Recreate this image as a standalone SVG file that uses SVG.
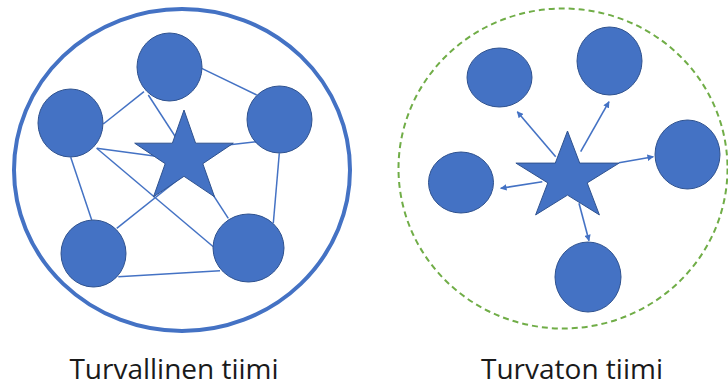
<svg xmlns="http://www.w3.org/2000/svg" width="728" height="388" viewBox="0 0 728 388">
<defs>
<style>
.node{fill:#4472C4;stroke:#2F528F;stroke-width:1}
.link{stroke:#4472C4;stroke-width:1.5;fill:none}
.arrow{stroke:#4472C4;stroke-width:1.6;fill:none;marker-end:url(#ah)}
.lbl{font-family:"Open Sans","Noto Sans",sans-serif;font-size:28px;fill:#1a1a1a}
</style>
<marker id="ah" viewBox="0 0 10 10" refX="9" refY="5" markerWidth="7" markerHeight="6.5" markerUnits="userSpaceOnUse" orient="auto"><path d="M0,0 L10,5 L0,10 Z" fill="#4472C4"/></marker>
</defs>
<rect width="728" height="388" fill="#ffffff"/>

<!-- Left: safe team -->
<g id="boundary-safe"><ellipse cx="182" cy="170" rx="168" ry="161" fill="none" stroke="#4472C4" stroke-width="4"/></g>
<g id="connectors-safe">
<line class="link" x1="201.7" y1="68.3" x2="256.7" y2="95"/>
<line class="link" x1="144" y1="91.7" x2="103.3" y2="124"/>
<line class="link" x1="148.3" y1="95" x2="228.3" y2="218.3"/>
<line class="link" x1="96.7" y1="148.3" x2="184" y2="160"/>
<line class="link" x1="184" y1="150" x2="256.7" y2="141.7"/>
<line class="link" x1="96.7" y1="148.3" x2="213.3" y2="246.7"/>
<line class="link" x1="70.7" y1="157.3" x2="91.7" y2="220"/>
<line class="link" x1="116.7" y1="228.3" x2="190" y2="170"/>
<line class="link" x1="118.3" y1="276.7" x2="220" y2="270.7"/>
<line class="link" x1="279.3" y1="153.3" x2="273.3" y2="223.3"/>
</g>
<g id="s-top"><ellipse class="node" cx="169.5" cy="67" rx="32.5" ry="34"/></g>
<g id="s-left"><ellipse class="node" cx="70.5" cy="123" rx="32.5" ry="34"/></g>
<g id="s-right"><ellipse class="node" cx="279.5" cy="119.5" rx="32.5" ry="33.5"/></g>
<g id="s-bottomleft"><ellipse class="node" cx="93.5" cy="253.5" rx="32.5" ry="33.5"/></g>
<g id="s-bottomright"><ellipse class="node" cx="248.5" cy="248" rx="35.5" ry="34"/></g>
<g id="s-leader"><path class="node" d="M184,110 L195.6,143.2 L233.3,143.2 L202.8,163.7 L214.5,196.8 L184,176.3 L153.5,196.8 L165.2,163.7 L134.7,143.2 L172.4,143.2 Z"/></g>

<!-- Right: unsafe team -->
<g id="boundary-unsafe"><ellipse cx="563" cy="168.5" rx="164.5" ry="160" fill="none" stroke="#70AD47" stroke-width="2" stroke-dasharray="6 4"/></g>
<g id="connectors-unsafe">
<line class="arrow" x1="555.7" y1="156.7" x2="517.3" y2="111.7"/>
<line class="arrow" x1="580.7" y1="151.7" x2="609" y2="101.7"/>
<line class="arrow" x1="619" y1="162.7" x2="653.3" y2="156.7"/>
<line class="arrow" x1="542.3" y1="181.7" x2="500.7" y2="188.3"/>
<line class="arrow" x1="579" y1="203.3" x2="589" y2="240.7"/>
</g>
<g id="u-upperleft"><ellipse class="node" cx="499.5" cy="77.5" rx="32.5" ry="29.5"/></g>
<g id="u-upperright"><ellipse class="node" cx="609.5" cy="61" rx="32.5" ry="34"/></g>
<g id="u-right"><ellipse class="node" cx="687.5" cy="154.5" rx="32.5" ry="34.5"/></g>
<g id="u-left"><ellipse class="node" cx="461" cy="182.5" rx="32.5" ry="30.5"/></g>
<g id="u-bottom"><ellipse class="node" cx="588" cy="277" rx="33" ry="35"/></g>
<g id="u-leader"><path class="node" d="M567.5,131 L579.7,163.1 L619.1,163.1 L587.2,182.9 L599.4,214.9 L567.5,195.1 L535.6,214.9 L547.8,182.9 L515.9,163.1 L555.3,163.1 Z"/></g>

<g id="labels">
<text class="lbl" x="174" y="379" text-anchor="middle">Turvallinen tiimi</text>
<text class="lbl" x="572" y="379" text-anchor="middle">Turvaton tiimi</text>
</g>
</svg>
